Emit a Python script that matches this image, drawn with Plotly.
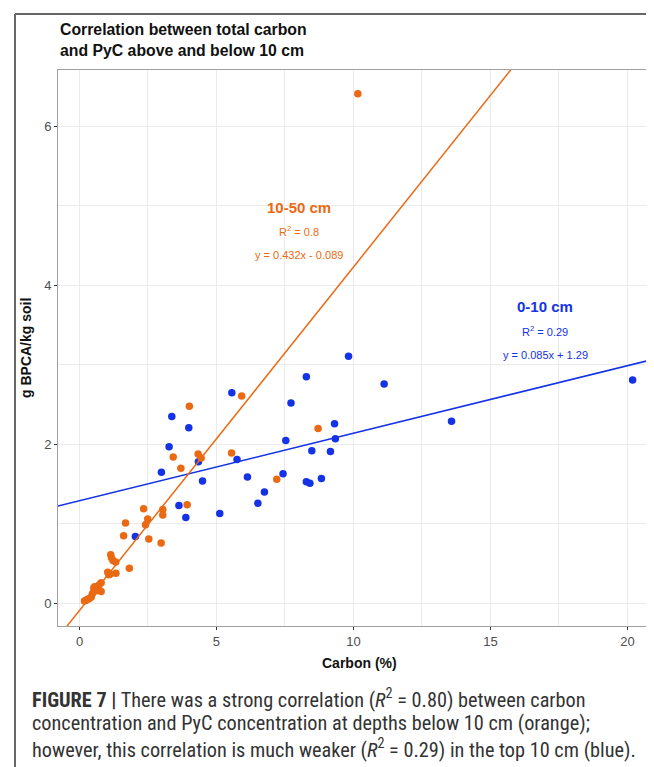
import plotly.graph_objects as go

# ---------------- data ----------------
blue_x = [9.82, 8.28, 5.56, 7.72, 3.37, 3.99, 9.31, 3.27, 7.53, 9.34, 4.34, 5.75, 8.48, 9.16,
          2.99, 4.49, 6.13, 7.43, 8.28, 8.41, 8.83, 3.63, 3.88, 5.12, 6.75, 6.51, 2.04,
          20.19, 13.58, 11.12]
blue_y = [3.11, 2.85, 2.65, 2.52, 2.35, 2.21, 2.26, 1.97, 2.05, 2.07, 1.78, 1.81, 1.92, 1.91,
          1.65, 1.54, 1.59, 1.63, 1.53, 1.51, 1.57, 1.23, 1.08, 1.13, 1.40, 1.26, 0.84,
          2.81, 2.29, 2.76]

orange_x = [10.16, 4.01, 5.92, 8.71, 3.42, 3.70, 4.33, 4.44, 5.55, 7.20, 3.93, 2.34, 3.04, 3.04,
            2.49, 2.41, 1.68, 1.61, 2.53, 2.98, 1.14, 1.17, 1.22, 1.32, 1.82, 1.33, 1.03, 1.07,
            1.12, 0.79, 0.71, 0.67, 0.55, 0.52, 0.61, 0.79, 0.43, 0.36, 0.30, 0.24, 0.18, 0.47]
orange_y = [6.41, 2.48, 2.61, 2.20, 1.84, 1.70, 1.88, 1.83, 1.89, 1.56, 1.24, 1.19, 1.18, 1.11,
            1.06, 0.99, 1.01, 0.85, 0.81, 0.76, 0.61, 0.57, 0.54, 0.52, 0.44, 0.38, 0.39, 0.36,
            0.37, 0.26, 0.23, 0.21, 0.21, 0.19, 0.16, 0.15, 0.08, 0.06, 0.05, 0.04, 0.03, 0.12]

# fitted lines (slope, intercept) as printed on the chart
blue_fit = (0.085, 1.29)
orange_fit = (0.432, -0.089)

x_ticks = [0, 5, 10, 15, 20]
y_ticks = [0, 2, 4, 6]

ORANGE = "#EA6A14"
BLUE = "#1432E6"

# ---------------- layout geometry ----------------
W, H = 654, 767
L, R, T, B = 50, 2, 62, 149
PW, PH = W - L - R, H - T - B
XR = [-0.785, 21.19]
YR = [-0.285, 6.71]


def px(xp):
    return (xp - L) / PW


def py(yp):
    return (H - B - yp) / PH


fig = go.Figure()

fig.add_trace(go.Scatter(x=blue_x, y=blue_y, mode="markers",
                         marker=dict(color=BLUE, size=7.5), showlegend=False))
fig.add_trace(go.Scatter(x=orange_x, y=orange_y, mode="markers",
                         marker=dict(color=ORANGE, size=7.5), showlegend=False))

for (m, c), col in [(blue_fit, BLUE), (orange_fit, ORANGE)]:
    xs = [XR[0], XR[1]]
    ys = [m * v + c for v in xs]
    fig.add_trace(go.Scatter(x=xs, y=ys, mode="lines",
                             line=dict(color=col, width=1.5), showlegend=False,
                             hoverinfo="skip"))

axis_common = dict(
    showgrid=True, gridcolor="#EBEBEB", gridwidth=1.3,
    zeroline=False, showline=True, linecolor="#A0A0A0", linewidth=1, mirror=True,
    ticks="outside", ticklen=3, tickcolor="#333333", tickwidth=1,
    tickfont=dict(family="Liberation Sans, Arial, sans-serif", size=13, color="#4D4D4D"),
)

fig.update_xaxes(range=XR, tickvals=x_ticks, ticktext=[str(v) for v in x_ticks],
                 minor=dict(dtick=2.5, tick0=0, showgrid=True, gridcolor="#EBEBEB",
                            gridwidth=0.9, ticks=""),
                 **axis_common)
fig.update_yaxes(range=YR, tickvals=y_ticks, ticktext=[str(v) for v in y_ticks],
                 minor=dict(dtick=1, tick0=0, showgrid=True, gridcolor="#EBEBEB",
                            gridwidth=0.9, ticks=""),
                 **axis_common)

FONT = "Liberation Sans, Arial, Helvetica, sans-serif"
ann = []
# title
ann.append(dict(xref="paper", yref="paper", x=0, y=py(32), xanchor="left", yanchor="middle",
                align="left", showarrow=False,
                text="<b>Correlation between total carbon<br>and PyC above and below 10 cm</b>",
                font=dict(family=FONT, size=15.8, color="#111111")))
# axis titles
ann.append(dict(xref="paper", yref="paper", x=0.5, y=py(655), xanchor="center", yanchor="middle",
                showarrow=False, text="<b>Carbon (%)</b>",
                font=dict(family=FONT, size=14, color="#111111")))
ann.append(dict(xref="paper", yref="paper", x=px(18), y=py(340), xanchor="center", yanchor="middle",
                showarrow=False, text="<b>g BPCA/kg soil</b>", textangle=-90,
                font=dict(family=FONT, size=14, color="#111111")))
# group labels
ann.append(dict(x=8, y=4.98, text="<b>10-50 cm</b>", showarrow=False,
                font=dict(family=FONT, size=15, color=ORANGE)))
ann.append(dict(x=8, y=4.68, text="R<sup>2</sup> = 0.8", showarrow=False,
                font=dict(family=FONT, size=11, color=ORANGE)))
ann.append(dict(x=8, y=4.38, text="y = 0.432x - 0.089", showarrow=False,
                font=dict(family=FONT, size=11, color=ORANGE)))
ann.append(dict(x=17, y=3.73, text="<b>0-10 cm</b>", showarrow=False,
                font=dict(family=FONT, size=15, color=BLUE)))
ann.append(dict(x=17, y=3.43, text="R<sup>2</sup> = 0.29", showarrow=False,
                font=dict(family=FONT, size=11, color=BLUE)))
ann.append(dict(x=17, y=3.13, text="y = 0.085x + 1.29", showarrow=False,
                font=dict(family=FONT, size=11, color=BLUE)))

# caption
CAP = "Liberation Sans Narrow, Arial Narrow, Roboto Condensed, Liberation Sans, sans-serif"
cap_lines = [
    "<b>FIGURE 7 |</b> There was a strong correlation (<i>R</i><sup>2</sup> = 0.80) between carbon",
    "concentration and PyC concentration at depths below 10 cm (orange);",
    "however, this correlation is much weaker (<i>R</i><sup>2</sup> = 0.29) in the top 10 cm (blue).",
]
for i, t in enumerate(cap_lines):
    ann.append(dict(xref="paper", yref="paper", x=px(22), y=py(690 + 25 * i),
                    xanchor="left", yanchor="middle", align="left", showarrow=False,
                    text=t, font=dict(family=CAP, size=20.3, color="#333333")))

shapes = [
    dict(type="line", xref="paper", yref="paper", x0=px(7), x1=px(7), y0=py(6), y1=py(767),
         line=dict(color="#666666", width=2)),
    dict(type="line", xref="paper", yref="paper", x0=px(7), x1=px(654), y0=py(6), y1=py(6),
         line=dict(color="#666666", width=2)),
]

fig.update_layout(
    width=W, height=H, margin=dict(l=L, r=R, t=T, b=B),
    paper_bgcolor="white", plot_bgcolor="white",
    annotations=ann, shapes=shapes, showlegend=False,
)

fig.write_html("out.html")
